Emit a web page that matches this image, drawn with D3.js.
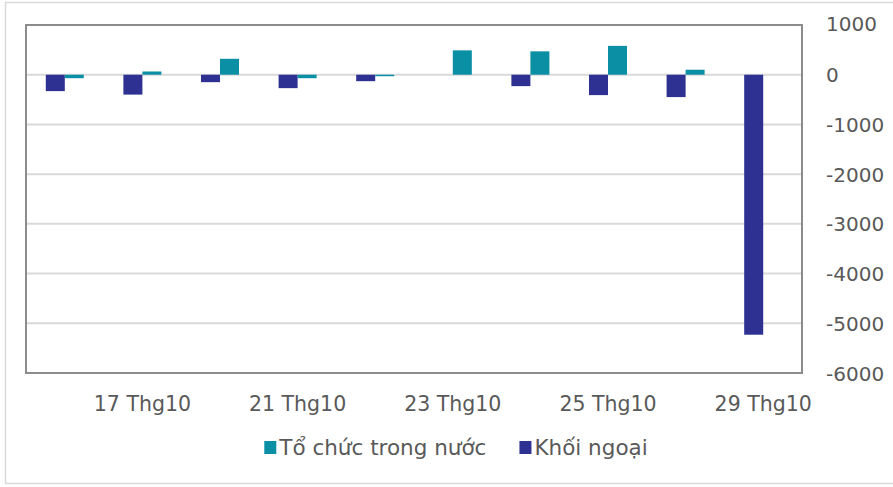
<!DOCTYPE html>
<html>
<head>
<meta charset="utf-8">
<script src="https://cdn.jsdelivr.net/npm/d3@7"></script>
<style>
  body { margin: 0; background: #fff; }
  text { font-family: "DejaVu Sans", sans-serif; fill: #595959; }
</style>
</head>
<body>
<div id="chart"></div>
<script>
// data
var dates = ["16 Thg10", "17 Thg10", "18 Thg10", "21 Thg10", "22 Thg10",
             "23 Thg10", "24 Thg10", "25 Thg10", "28 Thg10", "29 Thg10"];
var khoiNgoai = [-330, -400, -150, -270, -130, 0, -230, -410, -450, -5230];
var toChuc = [-70, 65, 320, -70, -30, 490, 470, 580, 100, 0];
var shownLabels = ["17 Thg10", "21 Thg10", "23 Thg10", "25 Thg10", "29 Thg10"];
var yTicks = [1000, 0, -1000, -2000, -3000, -4000, -5000, -6000];

var series = [
    { key: "kn", name: "Khối ngoại", color: "#2e3192", values: khoiNgoai },
    { key: "tc", name: "Tổ chức trong nước", color: "#0a8fa4", values: toChuc }
];
var legendOrder = [series[1], series[0]];

var width = 893, height = 487;
var plot = { left: 26, right: 802, top: 25, bottom: 373 };

var svg = d3.select('#chart').append('svg')
    .attr('width', width)
    .attr('height', height);

// outer chart border
svg.append('rect')
    .attr('x', 5.5).attr('y', 2.5)
    .attr('width', 900).attr('height', 481)
    .style('fill', 'none')
    .style('stroke', '#d9d9d9')
    .style('stroke-width', 1.5);

var x = d3.scaleBand()
    .domain(dates)
    .range([plot.left, plot.right])
    .paddingInner(0.51)
    .paddingOuter(0.255);

var xSub = d3.scaleBand()
    .domain(series.map(function(s) { return s.key; }))
    .range([0, x.bandwidth()]);

var y = d3.scaleLinear()
    .domain([-6000, 1000])
    .range([plot.bottom, plot.top]);

// gridlines
svg.append('g')
    .selectAll('line')
    .data(yTicks)
    .enter().append('line')
    .attr('x1', plot.left).attr('x2', plot.right)
    .attr('y1', function(d) { return y(d); })
    .attr('y2', function(d) { return y(d); })
    .style('stroke', '#d9d9d9')
    .style('stroke-width', 2);

// bars
var groups = svg.append('g').attr('class', 'bars')
    .selectAll('g')
    .data(dates)
    .enter().append('g')
    .attr('transform', function(d) { return 'translate(' + x(d) + ',0)'; });

groups.selectAll('rect')
    .data(function(d, i) {
        return series.map(function(s) { return { key: s.key, color: s.color, v: s.values[i] }; });
    })
    .enter().append('rect')
    .attr('x', function(d) { return xSub(d.key); })
    .attr('width', xSub.bandwidth())
    .attr('y', function(d) { return y(Math.max(0, d.v)); })
    .attr('height', function(d) { return Math.abs(y(d.v) - y(0)); })
    .style('fill', function(d) { return d.color; });

// plot frame
svg.append('rect')
    .attr('x', plot.left).attr('y', plot.top)
    .attr('width', plot.right - plot.left)
    .attr('height', plot.bottom - plot.top)
    .style('fill', 'none')
    .style('stroke', '#8c8c8c')
    .style('stroke-width', 2);

// y axis on the right, labels only (plain hyphen for minus)
var yAxis = svg.append('g')
    .attr('transform', 'translate(' + (plot.right + 24) + ',0)')
    .call(d3.axisRight(y).tickValues(yTicks).tickSize(0).tickPadding(0)
        .tickFormat(function(d) { return String(d); }));
yAxis.select('.domain').remove();
yAxis.selectAll('text')
    .style('font-size', '20px')
    .style('font-family', '"DejaVu Sans", sans-serif')
    .style('fill', '#595959')
    .attr('dy', '0.35em');
yAxis.selectAll('text').filter(function(d) { return d == 1000; }).attr('dy', '0.25em');

// x axis labels
var xAxis = svg.append('g')
    .attr('transform', 'translate(0,' + (plot.bottom + 20) + ')')
    .call(d3.axisBottom(x).tickValues(shownLabels).tickSize(0).tickPadding(0));
xAxis.select('.domain').remove();
xAxis.selectAll('text')
    .style('font-size', '20.5px')
    .style('font-family', '"DejaVu Sans", sans-serif')
    .style('fill', '#595959')
    .attr('dy', '0.9em');

// legend, centred under the plot
var legend = svg.append('g').attr('class', 'legend');
var ly = 447, lx = 0;
legendOrder.forEach(function(s) {
    legend.append('rect')
        .attr('x', lx).attr('y', ly - 6)
        .attr('width', 12).attr('height', 13)
        .style('fill', s.color);
    var t = legend.append('text')
        .attr('x', lx + 15).attr('y', ly)
        .attr('dy', '0.35em')
        .style('font-size', '21.5px')
        .text(s.name);
    lx += 15 + t.node().getComputedTextLength() + 33;
});
var legendWidth = lx - 33;
legend.attr('transform', 'translate(' + (456 - legendWidth / 2) + ',0)');
</script>
</body>
</html>
